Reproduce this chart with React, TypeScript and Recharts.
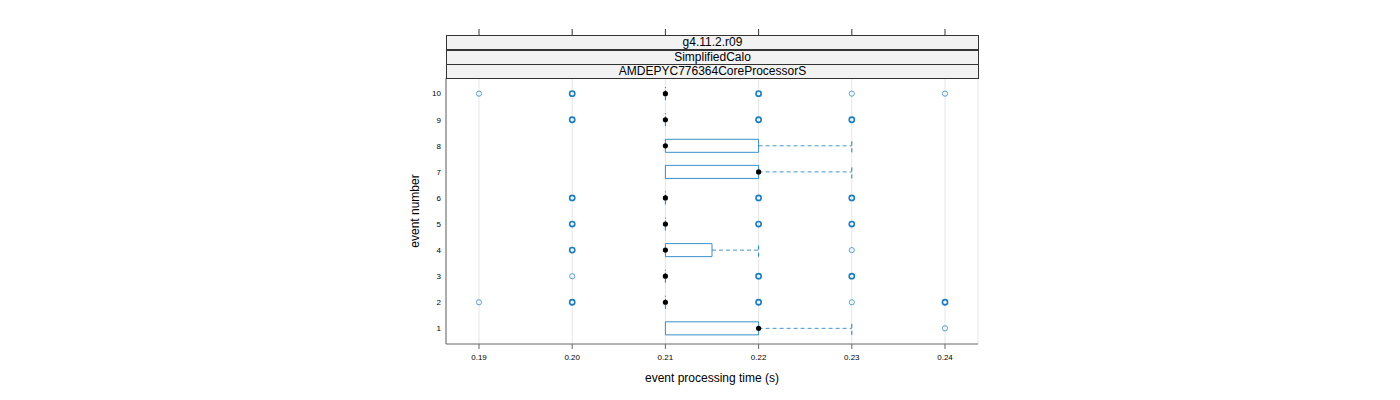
import {
  ComposedChart,
  Scatter,
  XAxis,
  YAxis,
  CartesianGrid,
  ReferenceArea,
  ReferenceLine,
} from 'recharts'

// event numbers and box stats (seconds)
const events = [1, 2, 3, 4, 5, 6, 7, 8, 9, 10]
const lowerHinge = [0.21, 0.21, 0.21, 0.21, 0.21, 0.21, 0.21, 0.21, 0.21, 0.21]
const medians = [0.22, 0.21, 0.21, 0.21, 0.21, 0.21, 0.22, 0.21, 0.21, 0.21]
const upperHinge = [0.22, 0.21, 0.21, 0.215, 0.21, 0.21, 0.22, 0.22, 0.21, 0.21]
const upperWhisker = [0.23, 0.21, 0.21, 0.22, 0.21, 0.21, 0.23, 0.23, 0.21, 0.21]
// outliers per event: [value, how many overlap]
const outliers: Array<Array<[number, number]>> = [
  [[0.24, 1]],
  [[0.19, 1], [0.2, 3], [0.22, 3], [0.23, 1], [0.24, 3]],
  [[0.2, 1], [0.22, 3], [0.23, 3]],
  [[0.2, 3], [0.23, 1]],
  [[0.2, 3], [0.22, 3], [0.23, 3]],
  [[0.2, 3], [0.22, 3], [0.23, 3]],
  [],
  [],
  [[0.2, 3], [0.22, 3], [0.23, 3]],
  [[0.19, 1], [0.2, 3], [0.22, 3], [0.23, 1], [0.24, 1]],
]
const xTicks = [0.19, 0.2, 0.21, 0.22, 0.23, 0.24]
const strips = ['g4.11.2.r09', 'SimplifiedCalo', 'AMDEPYC776364CoreProcessorS']

const X_DOMAIN: [number, number] = [0.18646, 0.24354]
const BLUE = '#1a7dc0'
const FONT = '"Liberation Sans", Arial, sans-serif'
const HALF = 0.25

const medianData = events.map((e, i) => ({ x: medians[i], y: e }))
const outlierData = events.flatMap((e, i) => outliers[i].map(([v, n]) => ({ x: v, y: e, n })))

export default function App() {
  return (
    <div style={{ position: 'absolute', left: 0, top: 0, width: 1400, height: 400, background: '#fff', fontFamily: FONT }}>
      <ComposedChart width={1400} height={400} margin={{ top: 29, right: 422, bottom: 0, left: 384 }}>
        <CartesianGrid xAxisId="main" horizontal={false} stroke="#e6e6e6" />
        <XAxis
          xAxisId="main"
          type="number"
          dataKey="x"
          domain={X_DOMAIN}
          allowDataOverflow
          ticks={xTicks}
          tickFormatter={(v) => Number(v).toFixed(2)}
          height={56}
          tickSize={5}
          tickMargin={5}
          stroke="#666"
          tick={{ fill: '#000', fontSize: 8, fontFamily: FONT }}
          label={{ value: 'event processing time (s)', position: 'insideBottom', offset: 18, fill: '#000', fontSize: 12, fontFamily: FONT }}
        />
        <XAxis
          xAxisId="strip"
          orientation="top"
          type="number"
          dataKey="x"
          domain={X_DOMAIN}
          allowDataOverflow
          height={43}
          tick={false}
          tickLine={false}
          axisLine={false}
        />
        <XAxis
          xAxisId="top"
          orientation="top"
          type="number"
          dataKey="x"
          domain={X_DOMAIN}
          allowDataOverflow
          ticks={xTicks}
          height={6}
          tickSize={6}
          tick={() => <g />}
          tickLine={{ stroke: '#333' }}
          axisLine={false}
        />
        <YAxis
          type="number"
          dataKey="y"
          domain={[0.4, 10.6]}
          allowDataOverflow
          ticks={events}
          width={62}
          tickLine={false}
          tickSize={3}
          tickMargin={2}
          stroke="#666"
          tick={{ fill: '#000', fontSize: 8, fontFamily: FONT }}
          label={{ value: 'event number', angle: -90, position: 'center', fill: '#000', fontSize: 12, fontFamily: FONT }}
        />
        <ReferenceArea xAxisId="main" fill="none" stroke="#777" strokeWidth={1} ifOverflow="visible" />

        {events.map((e, i) =>
          upperHinge[i] > lowerHinge[i] ? (
            <ReferenceArea
              key={`box${e}`}
              xAxisId="main"
              x1={lowerHinge[i]}
              x2={upperHinge[i]}
              y1={e - HALF}
              y2={e + HALF}
              fill="none"
              fillOpacity={0}
              stroke={BLUE}
              strokeOpacity={0.85}
              ifOverflow="visible"
            />
          ) : (
            <ReferenceLine
              key={`box${e}`}
              xAxisId="main"
              segment={[{ x: lowerHinge[i], y: e - HALF }, { x: lowerHinge[i], y: e + HALF }]}
              stroke={BLUE}
              strokeDasharray="4 2"
              ifOverflow="visible"
            />
          )
        )}
        {events.map((e, i) =>
          upperWhisker[i] > upperHinge[i] ? (
            <ReferenceLine
              key={`wh${e}`}
              xAxisId="main"
              segment={[{ x: upperHinge[i], y: e }, { x: upperWhisker[i], y: e }]}
              stroke={BLUE}
              strokeOpacity={0.8}
              strokeDasharray="4 3"
              ifOverflow="visible"
            />
          ) : null
        )}
        {events.map((e, i) =>
          upperWhisker[i] > upperHinge[i] ? (
            <ReferenceLine
              key={`cap${e}`}
              xAxisId="main"
              segment={[{ x: upperWhisker[i], y: e - HALF }, { x: upperWhisker[i], y: e + HALF }]}
              stroke={BLUE}
              strokeDasharray="4 3"
              ifOverflow="visible"
            />
          ) : null
        )}

        <Scatter
          xAxisId="main"
          data={outlierData}
          isAnimationActive={false}
          shape={(p: any) => (
            <circle
              cx={p.cx}
              cy={p.cy}
              r={2.6}
              fill="none"
              stroke={BLUE}
              strokeOpacity={p.payload.n > 1 ? 1 : 0.7}
              strokeWidth={p.payload.n > 1 ? 1.6 : 1}
            />
          )}
        />
        <Scatter
          xAxisId="main"
          data={medianData}
          isAnimationActive={false}
          shape={(p: any) => <circle cx={p.cx} cy={p.cy} r={2.6} fill="#000" />}
        />
      </ComposedChart>

      {strips.map((s, i) => (
        <div
          key={s}
          style={{
            position: 'absolute',
            left: 446,
            top: 35 + i * 14.5,
            width: 533,
            height: 15,
            boxSizing: 'border-box',
            border: '1px solid #333',
            background: '#f2f2f2',
            fontSize: 12,
            lineHeight: '13px',
            textAlign: 'center',
            color: '#000',
          }}
        >
          {s}
        </div>
      ))}
    </div>
  )
}
